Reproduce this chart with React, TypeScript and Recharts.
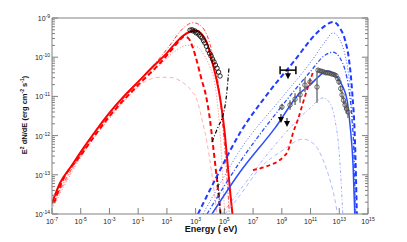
import { ComposedChart, Line, Scatter, XAxis, YAxis, ErrorBar } from "recharts";

type Pt = [number, number];

// all values are log10: x = log10(E / eV), y = log10(E^2 dN/dE / erg cm^-2 s^-1)
const xTicks = [-7, -5, -3, -1, 1, 3, 5, 7, 9, 11, 13, 15];
const yDecades = [-14, -13, -12, -11, -10, -9];

// synchrotron hump
const redSolid: Pt[] = [
  [-7.0, -13.72], [-6.44, -13.21], [-5.6, -12.75], [-4.91, -12.37], [-3.9, -11.85],
  [-2.96, -11.4], [-2.0, -11.0], [-1.01, -10.63], [0.0, -10.25], [1.01, -9.89],
  [1.56, -9.66], [2.1, -9.46], [2.6, -9.35], [3.0, -9.32], [3.4, -9.4], [3.8, -9.65],
  [4.14, -10.1], [4.5, -10.65], [4.75, -11.15], [5.0, -11.85], [5.22, -12.7],
  [5.42, -13.5], [5.62, -14.2],
];
const redDash: Pt[] = [
  [-6.85, -13.72], [-6.44, -13.3], [-4.91, -12.46], [-2.96, -11.49], [-1.01, -10.71],
  [0.5, -10.16], [1.4, -9.78], [1.9, -9.56], [2.2, -9.47], [2.5, -9.52], [2.8, -9.75],
  [3.1, -10.12], [3.4, -10.55], [3.72, -10.98], [4.0, -11.6], [4.21, -12.25],
  [4.4, -12.85], [4.56, -13.4], [4.8, -14.2],
];
const redDashDot: Pt[] = [
  [-7.0, -13.75], [-4.91, -12.42], [-2.96, -11.45], [-1.01, -10.65], [0.5, -10.02],
  [1.3, -9.65], [1.9, -9.35], [2.4, -9.18], [2.82, -9.12], [3.3, -9.18], [3.8, -9.45],
  [4.2, -9.95], [4.5, -10.5], [4.75, -11.2], [4.95, -12.0], [5.15, -12.9], [5.38, -14.2],
];
const pinkDot: Pt[] = [
  [-6.9, -13.8], [-4.91, -12.5], [-2.96, -11.55], [-1.01, -10.75], [0.52, -10.2],
  [1.56, -9.85], [2.4, -9.7], [3.0, -9.72], [3.6, -9.95], [4.0, -10.25], [4.3, -10.6],
  [4.55, -11.3], [4.75, -12.2], [4.92, -13.3], [5.05, -14.2],
];
const pinkDash: Pt[] = [
  [-7.0, -13.8], [-4.91, -12.47], [-2.96, -11.5], [-1.36, -10.88], [-0.5, -10.62],
  [0.52, -10.51], [1.3, -10.52], [2.0, -10.62], [2.7, -10.85], [3.1, -11.1],
  [3.45, -11.6], [3.8, -12.2], [4.1, -12.9], [4.35, -13.6], [4.55, -14.2],
];
const blackDashDot: Pt[] = [
  [4.14, -12.16], [4.56, -11.78], [4.91, -11.47], [5.11, -11.09], [5.25, -10.58], [5.32, -10.28],
];
const blackDashDot2: Pt[] = [[4.5, -13.0], [4.62, -13.5], [4.75, -14.1]];

// inverse-Compton hump
const blueDash: Pt[] = [
  [3.16, -14.0], [4.7, -12.88], [6.09, -11.93], [7.83, -11.02], [9.92, -10.07],
  [11.31, -9.43], [12.0, -9.2], [12.56, -9.1], [13.05, -9.26], [13.4, -9.56],
  [13.68, -10.07], [13.89, -10.84], [14.09, -12.11], [14.23, -14.1],
];
const blueDot: Pt[] = [
  [3.51, -14.0], [5.04, -13.01], [6.09, -12.37], [8.87, -11.09], [10.96, -10.15],
  [12.01, -9.61], [12.56, -9.38], [13.05, -9.56], [13.4, -9.94], [13.68, -10.53],
  [13.89, -11.35], [14.03, -12.37], [14.16, -14.1],
];
const blueDashDot: Pt[] = [
  [3.79, -14.0], [6.09, -12.67], [8.52, -11.47], [10.96, -10.38], [12.0, -9.95],
  [12.56, -9.87], [13.05, -10.02], [13.4, -10.33], [13.68, -10.84], [13.89, -11.6],
  [14.03, -12.62], [14.1, -14.1],
];
const blueSolid: Pt[] = [
  [4.14, -14.0], [6.09, -12.93], [8.52, -11.81], [10.27, -10.91], [10.96, -10.71],
  [11.52, -10.51], [12.14, -10.35], [12.7, -10.45], [13.19, -10.71], [13.54, -11.09],
  [13.75, -11.73], [13.96, -12.75], [14.09, -14.1],
];
const lightDashDot: Pt[] = [
  [4.84, -14.0], [6.09, -13.39], [8.52, -12.24], [10.96, -11.3], [11.87, -11.04],
  [12.35, -11.17], [12.7, -11.6], [12.98, -12.37], [13.12, -13.13], [13.26, -14.1],
];
const lightDash: Pt[] = [
  [5.04, -14.0], [6.09, -13.52], [7.48, -12.83], [9.08, -12.37], [10.47, -12.09],
  [11.31, -12.24], [11.87, -12.62], [12.35, -13.13], [12.7, -13.64], [12.91, -14.1],
];
const redIC: Pt[] = [
  [6.99, -12.88], [7.97, -12.78], [9.08, -12.55], [9.43, -12.39], [9.78, -11.93],
  [10.13, -11.58], [10.47, -11.17], [10.82, -10.76], [11.17, -10.38],
];

// measurements
const synchData: Pt[] = [
  [2.61, -9.31], [2.75, -9.3], [2.82, -9.33], [2.95, -9.33], [3.03, -9.38], [3.15, -9.38],
  [3.24, -9.43], [3.35, -9.47], [3.45, -9.51], [3.55, -9.58], [3.65, -9.64], [3.75, -9.72],
  [3.86, -9.82], [3.97, -9.9], [4.07, -9.97], [4.18, -10.05], [4.28, -10.12], [4.38, -10.2],
  [4.49, -10.28], [4.6, -10.38], [4.7, -10.48],
];
// [x, y, y error]
const gammaData: [number, number, number][] = [
  [9.01, -11.27, 0.08], [9.57, -11.22, 0.12], [9.92, -11.07, 0.15], [10.27, -10.96, 0.2],
  [10.61, -10.71, 0.18], [10.96, -10.63, 0.1], [11.45, -10.76, 0.4], [11.52, -10.33, 0.05],
  [11.66, -10.35, 0.05], [11.8, -10.36, 0.05], [11.94, -10.38, 0.05], [12.07, -10.4, 0.05],
  [12.21, -10.4, 0.05], [12.35, -10.41, 0.05], [12.49, -10.43, 0.05], [12.63, -10.44, 0.05],
  [12.77, -10.47, 0.06], [12.9, -10.55, 0.06], [12.98, -10.63, 0.08], [13.1, -10.8, 0.08],
  [13.19, -10.96, 0.1], [13.3, -11.1, 0.1], [13.4, -11.22, 0.12], [13.51, -11.32, 0.12],
  [13.61, -11.4, 0.15],
];
// upper limits [x, y, x half-range]
const upperLimits: [number, number, number][] = [
  [9.43, -10.33, 0.55], [8.94, -11.45, 0], [9.36, -11.55, 0],
];

const AX = "#808080";
const FONT = "'Liberation Sans', Arial, sans-serif";

const toXY = (pts: Pt[]) => pts.map(([x, y]) => ({ x, y }));

const yTicks = yDecades.flatMap((d) =>
  d === -9 ? [d] : [d, ...[2, 3, 4, 5, 6, 7, 8, 9].map((k) => d + Math.log10(k))]
);
const isMajor = (v: number) => Math.abs(v - Math.round(v)) < 1e-6;

const BottomTick = (p: any) => (
  <g>
    <line x1={p.x} y1={p.y} x2={p.x} y2={p.y - 6} stroke={AX} />
    <text x={p.x} y={p.y + 10} textAnchor="middle" fontSize={7} fill="#222" fontFamily={FONT}>
      10<tspan dy={-3} fontSize={5}>{p.payload.value}</tspan>
    </text>
  </g>
);
const TopTick = (p: any) => <line x1={p.x} y1={p.y} x2={p.x} y2={p.y + 6} stroke={AX} />;
const LeftTick = (p: any) => {
  const v = p.payload.value;
  if (!isMajor(v)) return <line x1={p.x} y1={p.y} x2={p.x + 3} y2={p.y} stroke={AX} />;
  return (
    <g>
      <line x1={p.x} y1={p.y} x2={p.x + 6} y2={p.y} stroke={AX} />
      <text x={p.x - 2} y={p.y + 3} textAnchor="end" fontSize={7} fill="#222" fontFamily={FONT}>
        10<tspan dy={-3} fontSize={5}>{Math.round(v)}</tspan>
      </text>
    </g>
  );
};
const RightTick = (p: any) => {
  const len = isMajor(p.payload.value) ? 6 : 3;
  return <line x1={p.x} y1={p.y} x2={p.x - len} y2={p.y} stroke={AX} />;
};

const Ring = (color: string) => (p: any) => (
  <circle cx={p.cx} cy={p.cy} r={2.2} fill="none" stroke={color} strokeWidth={0.8} />
);

const ArrowShape = (p: any) => {
  const { cx, cy } = p;
  return (
    <g>
      <line x1={cx} y1={cy} x2={cx} y2={cy + 4} stroke="#000" strokeWidth={1} />
      <path d={`M${cx - 3},${cy + 3} L${cx + 3},${cy + 3} L${cx},${cy + 9} Z`} fill="#000" />
    </g>
  );
};

const curve = (data: Pt[], stroke: string, width: number, dash?: string) => (
  <Line
    data={toXY(data)}
    dataKey="y"
    type="monotone"
    stroke={stroke}
    strokeWidth={width}
    strokeDasharray={dash}
    dot={false}
    isAnimationActive={false}
  />
);

export default function App() {
  const W = 391;
  const H = 226;
  return (
    <div style={{ position: "relative", width: W, height: H }}>
      <ComposedChart width={W} height={H} margin={{ top: 9, right: 30, bottom: 0, left: 0 }}>
        <XAxis
          type="number"
          dataKey="x"
          domain={[-7, 15]}
          ticks={xTicks}
          interval={0}
          allowDataOverflow
          height={20}
          tickSize={0}
          tickMargin={0}
          tickLine={false}
          axisLine={{ stroke: AX }}
          tick={<BottomTick />}
        />
        <XAxis
          xAxisId="top"
          orientation="top"
          type="number"
          domain={[-7, 15]}
          ticks={xTicks}
          interval={0}
          allowDataOverflow
          height={1}
          tickSize={0}
          tickMargin={0}
          tickLine={false}
          axisLine={{ stroke: AX }}
          tick={<TopTick />}
        />
        <YAxis
          type="number"
          domain={[-14, -9]}
          ticks={yTicks}
          interval={0}
          allowDataOverflow
          width={44}
          tickSize={0}
          tickMargin={0}
          tickLine={false}
          axisLine={{ stroke: AX }}
          tick={<LeftTick />}
        />
        <YAxis
          yAxisId="right"
          orientation="right"
          type="number"
          domain={[-14, -9]}
          ticks={yTicks}
          interval={0}
          allowDataOverflow
          width={1}
          tickSize={0}
          tickMargin={0}
          tickLine={false}
          axisLine={{ stroke: AX }}
          tick={<RightTick />}
        />
        {curve(pinkDash, "#ff9a9a", 0.8, "4 3")}
        {curve(pinkDot, "#ff8080", 1, "1 2")}
        {curve(redDashDot, "#ff3a3a", 1, "4 2 1 2")}
        {curve(redSolid, "#ff0000", 2)}
        {curve(redDash, "#ff0000", 2, "5 3")}
        {curve(blackDashDot, "#000000", 1.2, "4 2 1 2")}
        {curve(blackDashDot2, "#000000", 1.2, "4 2 1 2")}
        {curve(lightDash, "#9aa8ff", 0.8, "4 3")}
        {curve(lightDashDot, "#8a9aff", 0.8, "3 2 1 2")}
        {curve(blueSolid, "#2a4dff", 1.5)}
        {curve(blueDashDot, "#2a4dff", 1.3, "4 2 1 2")}
        {curve(blueDot, "#4a6aff", 1, "1 2")}
        {curve(blueDash, "#1e3cff", 2, "5 3")}
        {curve(redIC, "#ff0000", 1.8, "4 3")}
        <Scatter
          data={synchData.map(([x, y]) => ({ x, y }))}
          dataKey="y"
          shape={Ring("#000")}
          isAnimationActive={false}
        />
        <Scatter
          data={gammaData.map(([x, y, e]) => ({ x, y, e }))}
          dataKey="y"
          shape={Ring("#444")}
          isAnimationActive={false}
        >
          <ErrorBar dataKey="e" direction="y" width={0} stroke="#777" />
        </Scatter>
        <Scatter
          data={upperLimits.map(([x, y, ex]) => ({ x, y, ex }))}
          dataKey="y"
          shape={<ArrowShape />}
          isAnimationActive={false}
        >
          <ErrorBar dataKey="ex" direction="x" width={4} stroke="#000" />
        </Scatter>
      </ComposedChart>
      <svg
        width={W}
        height={H}
        style={{ position: "absolute", left: 0, top: 0, pointerEvents: "none" }}
        fontFamily={FONT}
      >
        <text
          x={19}
          y={107}
          transform="rotate(-90 19 107)"
          textAnchor="middle"
          fontSize={7.5}
          fontWeight="bold"
          fill="#111"
        >
          E<tspan dy={-3} fontSize={5}>2</tspan>
          <tspan dy={3}> dN/dE  (erg cm</tspan>
          <tspan dy={-3} fontSize={5}>-2</tspan>
          <tspan dy={3}> s</tspan>
          <tspan dy={-3} fontSize={5}>-1</tspan>
          <tspan dy={3}>)</tspan>
        </text>
        <text x={203} y={224} textAnchor="middle" fontSize={9} fontWeight="bold" fill="#111">
          Energy  ( eV)
        </text>
      </svg>
    </div>
  );
}
